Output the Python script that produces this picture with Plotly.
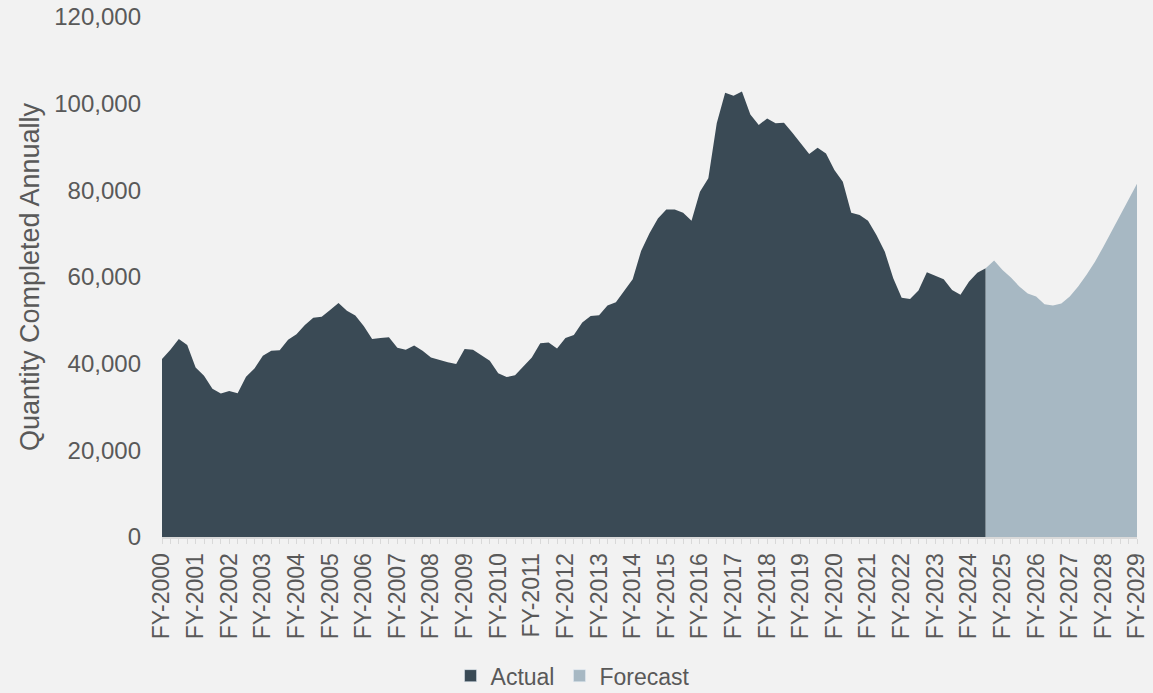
"""Quarterly quantity completed: actual vs forecast area chart."""
import plotly.graph_objects as go

# quarterly values, FY-2000 Q1 .. FY-2024 Q3 (actual)
actual = [
    41100, 43200, 45700, 44300, 39100, 37200, 34200, 33100, 33700, 33200,
    37000, 38900, 41800, 43000, 43100, 45500, 46800, 48900, 50600, 50800,
    52400, 54000, 52200, 51100, 48700, 45700, 45900, 46100, 43700, 43200,
    44200, 43000, 41400, 40800, 40300, 39900, 43400, 43200, 42000, 40700,
    37800, 36900, 37300, 39300, 41400, 44700, 44900, 43500, 45900, 46600,
    49500, 51000, 51200, 53400, 54200, 56800, 59500, 66000, 70100, 73500,
    75600, 75600, 74800, 73000, 79700, 82800, 95500, 102500, 101800, 102800,
    97500, 95100, 96600, 95500, 95600, 93300, 90900, 88400, 89800, 88500,
    84700, 82000, 74800, 74300, 73000, 69700, 65800, 59700, 55200, 54900,
    56900, 61100, 60300, 59500, 57000, 55900, 58900, 61000, 62000,
]
# forecast picks up at the last actual quarter and runs to FY-2029
forecast = [
    62000, 63800, 61600, 59900, 57800, 56200, 55500, 53700, 53400, 53900,
    55500, 57800, 60500, 63500, 67000, 70600, 74300, 77900, 81500,
]
years = list(range(2000, 2030))
year_labels = [f"FY-{y}" for y in years]

x_actual = list(range(len(actual)))
x_forecast = list(range(len(actual) - 1, len(actual) - 1 + len(forecast)))
n_last = x_forecast[-1]

FONT = "Liberation Sans, Arial, sans-serif"
GREY = "#595959"
DARK = "#3a4a55"
LIGHT = "#a7b8c3"

fig = go.Figure()
fig.add_trace(go.Scatter(
    x=x_actual, y=actual, mode="lines", name="Actual", showlegend=False,
    fill="tozeroy", fillcolor=DARK, line=dict(width=0, color=DARK),
))
fig.add_trace(go.Scatter(
    x=x_forecast, y=forecast, mode="lines", name="Forecast", showlegend=False,
    fill="tozeroy", fillcolor=LIGHT, line=dict(width=0, color=LIGHT),
))
# square legend swatches, like the original
for name, color in [("Actual", DARK), ("Forecast", LIGHT)]:
    fig.add_trace(go.Bar(x=[None], y=[None], name=name, marker_color=color))

fig.update_xaxes(
    range=[0, n_last],
    tickvals=[4 * i for i in range(len(years))],
    ticktext=year_labels,
    tickangle=-90,
    ticks="outside", ticklen=5, tickcolor="#d9d9d9", tickwidth=1,
    minor=dict(dtick=1, ticks="outside", ticklen=5, tickcolor="#d9d9d9", tickwidth=1),
    showline=True, linecolor="#d9d9d9", linewidth=2,
    showgrid=False, zeroline=False, automargin=False,
    tickfont=dict(family=FONT, size=23, color=GREY),
)
fig.update_yaxes(
    range=[0, 120000],
    dtick=20000,
    tickformat=",d",
    showgrid=False, zeroline=False, showline=False, automargin=False,
    ticklabelstandoff=20,
    tickfont=dict(family=FONT, size=24, color=GREY),
    title=dict(text="Quantity Completed Annually", standoff=6,
               font=dict(family=FONT, size=27, color=GREY)),
)
fig.update_layout(
    width=1153, height=693,
    margin=dict(l=162, r=16, t=17, b=156, autoexpand=False),
    paper_bgcolor="#f2f2f2", plot_bgcolor="#f2f2f2",
    font=dict(family=FONT, color=GREY),
    showlegend=True,
    legend=dict(
        orientation="h", xref="container", yref="container",
        x=0.497, xanchor="center", y=0.056, yanchor="top",
        font=dict(family=FONT, size=23, color=GREY),
        itemwidth=30, tracegroupgap=0,
    ),
)
fig.write_html("out.html", config={"displayModeBar": False},
               post_script="document.body.style.margin='0';")
